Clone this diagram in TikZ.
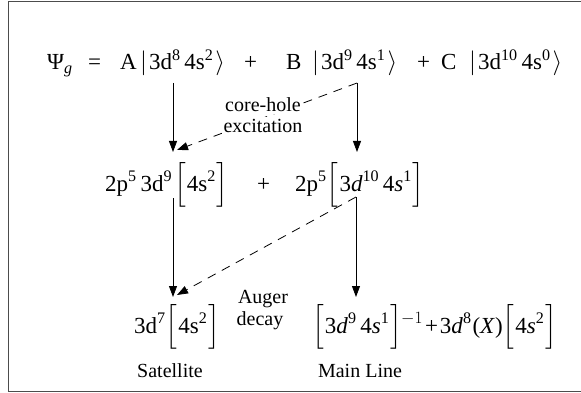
\documentclass[tikz,border=0pt]{standalone}
\usepackage{amsmath}
\usepackage{fontspec}
\setmainfont{Liberation Serif}
\usetikzlibrary{arrows.meta}
\newcommand\spw[1]{\textsuperscript{#1}}
\newcommand\bkt[1]{$\left[\vrule height 26pt depth 11pt width 0pt\hbox{\kern1pt#1\kern1pt}\right]$}
\newcommand\kt[1]{$|$\kern2pt#1\kern2pt$\rangle$}

\begin{document}
\begin{tikzpicture}[x=1pt,y=-1pt,
  form/.style={anchor=base west,inner sep=0pt,font=\fontsize{23}{27}\selectfont},
  lbl/.style={anchor=base,inner sep=0pt,font=\fontsize{20}{22}\selectfont},
  arr/.style={line width=0.8pt,-{Triangle[length=11pt,width=8pt]}},
  dasharr/.style={arr,dash pattern=on 9pt off 7pt}]
  \useasboundingbox (0,0) rectangle (581,393);
  % frame
  \draw[black!70,line width=1pt] (8,2) rectangle (600,391);
  % ground state
  \node[form] (psi) at (47,70) {Ψ\textsubscript{\textit{g}}};
  \node[form] (eq) at (88,70) {=};
  \node[form] (cA) at (120,70) {A};
  \node[form] (ketA) at (140,70) {\kt{3d\spw{8}\,4s\spw{2}}};
  \node[form] (plA) at (244,70) {+};
  \node[form] (cB) at (286,70) {B};
  \node[form] (ketB) at (312,70) {\kt{3d\spw{9}\,4s\spw{1}}};
  \node[form] (plB) at (417,70) {+};
  \node[form] (cC) at (441,70) {C};
  \node[form] (ketC) at (469,70) {\kt{3d\spw{10}\,4s\spw{0}}};
  % core-hole states
  \node[form] (hole1) at (105,191) {2p\spw{5}\,3d\spw{9}\kern2pt\bkt{4s\spw{2}}};
  \node[form] (pl2) at (257,191) {+};
  \node[form] (hole2) at (295,191) {2p\spw{5}\bkt{3\textit{d}\spw{10}\,4\textit{s}\spw{1}}};
  % final states
  \node[form] (sat) at (134,333) {3d\spw{7}\bkt{4s\spw{2}}};
  \node[form] (mainf) at (312,333) {\bkt{3\textit{d}\spw{9}\,4\textit{s}\spw{1}}\kern-1pt$^{-1}$\kern2pt+\kern2pt3\textit{d}\spw{8}\kern1pt(\textit{X})\bkt{4\textit{s}\spw{2}}};
  % connectors
  \coordinate (a1) at (173,83);
  \coordinate (b1) at (357,83);
  \coordinate (a2) at (173,198);
  \coordinate (b2) at (356,197);
  \coordinate (a1e) at (173,152);
  \coordinate (b1e) at (357,152);
  \coordinate (d1e) at (177,150);
  \coordinate (a2e) at (173,297);
  \coordinate (b2e) at (356,297);
  \coordinate (d2e) at (177,295);
  \draw[arr] (a1) -- (a1e);
  \draw[arr] (b1) -- (b1e);
  \draw[dasharr] (b1) -- (d1e);
  \draw[arr] (a2) -- (a2e);
  \draw[arr] (b2) -- (b2e);
  \draw[dasharr] (b2) -- (d2e);
  % labels
  \node[lbl,fill=white,inner sep=2pt] (ch1) at (263,112) {core-hole};
  \node[lbl,fill=white,inner sep=2pt] (ch2) at (263,132) {excitation};
  \node[lbl] (au1) at (263,303) {Auger};
  \node[lbl] (au2) at (260,325) {decay};
  \node[lbl] (satl) at (170,377) {Satellite};
  \node[lbl] (mainl) at (360,377) {Main Line};
\end{tikzpicture}
\end{document}
